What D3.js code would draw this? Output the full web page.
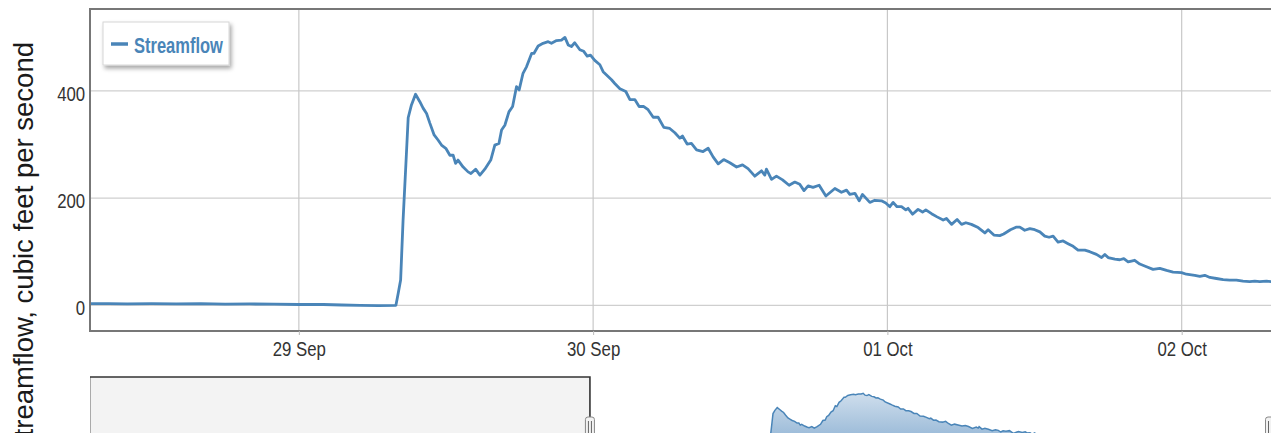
<!DOCTYPE html>
<html><head><meta charset="utf-8">
<script src="https://cdn.jsdelivr.net/npm/d3@7"></script>
<style>body{margin:0;background:#fff;overflow:hidden} svg{display:block}</style>
</head><body><svg id="c" width="1271" height="433"></svg>
<script>
// ---------------- DATA ----------------
const seriesName = "Streamflow";
const yAxisTitle = "Streamflow, cubic feet per second";
const yTicks = [0, 200, 400];
const xTickDates = ["2013-09-29 00:00", "2013-09-30 00:00", "2013-10-01 00:00", "2013-10-02 00:00"];
const xTickLabels = ["29 Sep", "30 Sep", "01 Oct", "02 Oct"];
const viewRange = ["2013-09-28 06:58", "2013-10-02 07:22"];
const navigatorRange = ["2013-09-25 08:06", "2013-10-02 07:22"];
const yDomain = [-48, 553];
const navYDomain = [0, 620];

const times = [
"2013-09-28 07:00","2013-09-28 08:30","2013-09-28 10:00","2013-09-28 12:00","2013-09-28 14:00","2013-09-28 16:00",
"2013-09-28 18:00","2013-09-28 20:00","2013-09-28 22:00",
"2013-09-29 00:00","2013-09-29 02:00","2013-09-29 03:30","2013-09-29 05:00","2013-09-29 06:30","2013-09-29 07:55",
"2013-09-29 08:06","2013-09-29 08:18","2013-09-29 08:30","2013-09-29 08:44","2013-09-29 08:55","2013-09-29 09:11",
"2013-09-29 09:31","2013-09-29 09:52","2013-09-29 10:08","2013-09-29 10:25","2013-09-29 10:41","2013-09-29 11:02",
"2013-09-29 11:22","2013-09-29 11:38","2013-09-29 11:59","2013-09-29 12:19","2013-09-29 12:35","2013-09-29 12:47",
"2013-09-29 12:59","2013-09-29 13:24","2013-09-29 13:48","2013-09-29 14:02","2013-09-29 14:25","2013-09-29 14:46",
"2013-09-29 15:10","2013-09-29 15:39","2013-09-29 15:59","2013-09-29 16:19","2013-09-29 16:32","2013-09-29 16:48",
"2013-09-29 17:08","2013-09-29 17:26","2013-09-29 17:45","2013-09-29 17:58","2013-09-29 18:17","2013-09-29 18:34",
"2013-09-29 18:59","2013-09-29 19:10","2013-09-29 19:31","2013-09-29 19:55","2013-09-29 20:20","2013-09-29 20:36",
"2013-09-29 21:01","2013-09-29 21:25","2013-09-29 21:42","2013-09-29 21:58","2013-09-29 22:14","2013-09-29 22:30",
"2013-09-29 22:55","2013-09-29 23:14","2013-09-29 23:31","2013-09-29 23:47",
"2013-09-30 00:08","2013-09-30 00:33","2013-09-30 00:49","2013-09-30 01:30","2013-09-30 01:46","2013-09-30 02:11",
"2013-09-30 02:40","2013-09-30 03:00","2013-09-30 03:24","2013-09-30 03:45","2013-09-30 04:08","2013-09-30 04:29",
"2013-09-30 04:54","2013-09-30 05:18","2013-09-30 05:46","2013-09-30 06:15","2013-09-30 06:40","2013-09-30 07:04",
"2013-09-30 07:17","2013-09-30 07:40","2013-09-30 08:01","2013-09-30 08:26","2013-09-30 08:58","2013-09-30 09:23",
"2013-09-30 09:47","2013-09-30 10:12","2013-09-30 10:39","2013-09-30 11:09","2013-09-30 11:42","2013-09-30 12:11",
"2013-09-30 12:38","2013-09-30 13:11","2013-09-30 13:44","2013-09-30 14:00","2013-09-30 14:08","2013-09-30 14:33",
"2013-09-30 14:57","2013-09-30 15:27","2013-09-30 15:59","2013-09-30 16:27","2013-09-30 16:51","2013-09-30 17:12",
"2013-09-30 17:32","2013-09-30 17:56","2013-09-30 18:26","2013-09-30 18:59","2013-09-30 19:43","2013-09-30 20:15",
"2013-09-30 20:40","2013-09-30 20:56","2013-09-30 21:21","2013-09-30 21:42","2013-09-30 21:58","2013-09-30 22:34",
"2013-09-30 22:58","2013-09-30 23:31","2013-09-30 23:52",
"2013-10-01 00:12","2013-10-01 00:28","2013-10-01 00:47","2013-10-01 01:09","2013-10-01 01:30","2013-10-01 01:41",
"2013-10-01 02:03","2013-10-01 02:30","2013-10-01 02:52","2013-10-01 03:08","2013-10-01 03:36","2013-10-01 04:03",
"2013-10-01 04:33","2013-10-01 04:49","2013-10-01 05:14","2013-10-01 05:41","2013-10-01 06:03","2013-10-01 06:24",
"2013-10-01 06:51","2013-10-01 07:24","2013-10-01 07:57","2013-10-01 08:13","2013-10-01 08:41","2013-10-01 09:10",
"2013-10-01 09:29","2013-10-01 10:02","2013-10-01 10:32","2013-10-01 10:48","2013-10-01 11:12","2013-10-01 11:37",
"2013-10-01 12:01","2013-10-01 12:26","2013-10-01 12:50","2013-10-01 13:11","2013-10-01 13:31","2013-10-01 13:55",
"2013-10-01 14:20","2013-10-01 14:44","2013-10-01 15:09","2013-10-01 15:33","2013-10-01 16:06","2013-10-01 16:30",
"2013-10-01 17:03","2013-10-01 17:28","2013-10-01 17:44","2013-10-01 18:00","2013-10-01 18:33","2013-10-01 18:57",
"2013-10-01 19:17","2013-10-01 19:38","2013-10-01 20:10","2013-10-01 20:35","2013-10-01 21:08","2013-10-01 21:40",
"2013-10-01 22:13","2013-10-01 22:46","2013-10-01 23:18","2013-10-01 23:59",
"2013-10-02 00:23","2013-10-02 01:04","2013-10-02 01:29","2013-10-02 01:53","2013-10-02 02:18","2013-10-02 02:50",
"2013-10-02 03:23","2013-10-02 03:55","2013-10-02 04:28","2013-10-02 05:00","2013-10-02 05:33","2013-10-02 05:58",
"2013-10-02 06:22","2013-10-02 06:55","2013-10-02 07:22"
];
const flow = [
3,3,2.5,3,2.5,3,
2,2.5,2,
1.5,1.5,0.5,0,-0.5,0,
22,47,159,265,350,374,
394,380,368,358,340,318,
308,299,293,280,280,265,
271,258,249,246,254,243,
254,271,299,302,327,336,
361,371,408,402,433,445,
470,470,484,489,492,489,
494,495,500,486,483,490,
477,474,465,467,
457,449,436,421,414,404,
399,384,384,371,371,365,
351,351,332,330,322,312,
316,301,302,290,287,293,
277,264,272,266,258,262,
255,241,251,243,254,235,
241,234,224,230,226,214,
223,220,224,204,218,211,
215,207,209,195,207,192,
196,195,191,
184,192,184,184,178,181,
170,179,174,178,171,165,
159,162,151,160,151,154,
151,145,135,141,131,130,
133,141,146,146,140,143,
141,137,129,127,129,118,
120,115,110,103,103,100,
95,89,95,89,86,85,
87,81,84,77,72,67,
69,65,62,61,
58,56,54,56,52,50,
48,47,47,45,44,45,
44,45,44
];

// ---------------- DRAWING ----------------
const lineColor = "#4a85b8";
const parse = d3.timeParse("%Y-%m-%d %H:%M");
const data = times.map((t, i) => ({ t: parse(t), v: flow[i] }));
const svg = d3.select("#c");
const P = { left: 90, top: 9, right: 1272, bottom: 331 };
const N = { left: 90, right: 1270, top: 377, bottom: 461 };

const x = d3.scaleTime().domain(viewRange.map(parse)).range([P.left, P.right]);
const y = d3.scaleLinear().domain(yDomain).range([P.bottom, P.top]);
const xN = d3.scaleTime().domain(navigatorRange.map(parse)).range([N.left, N.right]);
const yN = d3.scaleLinear().domain(navYDomain).range([N.bottom, N.top]);

const defs = svg.append("defs");
defs.append("clipPath").attr("id", "pclip").append("rect")
  .attr("x", P.left).attr("y", P.top).attr("width", P.right - P.left).attr("height", P.bottom - P.top);
defs.append("clipPath").attr("id", "nclip").append("rect")
  .attr("x", N.left).attr("y", N.top).attr("width", N.right - N.left).attr("height", N.bottom - N.top + 30);
const grad = defs.append("linearGradient").attr("id", "navgrad")
  .attr("gradientUnits", "userSpaceOnUse").attr("x1", 0).attr("x2", 0).attr("y1", N.top).attr("y2", N.bottom);
grad.append("stop").attr("offset", "0%").attr("stop-color", "#e2ebf4");
grad.append("stop").attr("offset", "100%").attr("stop-color", "#7ea7cd");
const sh = defs.append("filter").attr("id", "shadow").attr("x", "-20%").attr("y", "-20%").attr("width", "150%").attr("height", "160%");
sh.append("feDropShadow").attr("dx", 2).attr("dy", 3).attr("stdDeviation", 2)
  .attr("flood-color", "#000").attr("flood-opacity", 0.35);

// gridlines
svg.append("g").selectAll("line").data(yTicks).join("line")
  .attr("x1", P.left).attr("x2", P.right).attr("y1", d => y(d)).attr("y2", d => y(d))
  .attr("stroke", "#cfcfcf").attr("stroke-width", 1.2);
svg.append("g").selectAll("line").data(xTickDates.map(parse)).join("line")
  .attr("x1", d => x(d)).attr("x2", d => x(d)).attr("y1", P.top).attr("y2", P.bottom)
  .attr("stroke", "#c8c8c8").attr("stroke-width", 1.2);

// main line
svg.append("path").datum(data)
  .attr("clip-path", "url(#pclip)")
  .attr("fill", "none").attr("stroke", lineColor).attr("stroke-width", 2.8)
  .attr("stroke-linejoin", "round")
  .attr("d", d3.line().x(d => x(d.t)).y(d => y(d.v)));

// plot frame
svg.append("rect").attr("x", P.left).attr("y", P.top)
  .attr("width", P.right - P.left).attr("height", P.bottom - P.top)
  .attr("fill", "none").attr("stroke", "#777").attr("stroke-width", 2);

// axes
const fontFam = "'Liberation Sans', Arial, sans-serif";
const yAx = svg.append("g").attr("transform", `translate(${P.left},0)`)
  .call(d3.axisLeft(y).tickValues(yTicks).tickSize(0).tickPadding(6).tickFormat(d3.format("d")));
yAx.select(".domain").remove();
yAx.selectAll("text").attr("font-size", 21).attr("font-family", fontFam).attr("fill", "#333")
  .attr("dy", "0.45em").attr("transform", "scale(0.8,1)");

const xAx = svg.append("g").attr("transform", `translate(0,${P.bottom})`)
  .call(d3.axisBottom(x).tickValues(xTickDates.map(parse)).tickSize(4).tickPadding(6)
    .tickFormat((d, i) => xTickLabels[i]));
xAx.select(".domain").remove();
xAx.selectAll(".tick line").attr("stroke", "#bbb");
xAx.selectAll("text").attr("font-size", 21).attr("font-family", fontFam).attr("fill", "#333")
  .attr("transform", "scale(0.8,1)");

// y title (cut off at the bottom edge, as in the reference)
svg.append("text").text(yAxisTitle)
  .attr("transform", "translate(33,42) rotate(-90)")
  .attr("text-anchor", "end").attr("font-size", 27.5).attr("font-family", fontFam).attr("fill", "#1a1a1a");

// legend
const lg = svg.append("g");
lg.append("rect").attr("x", 103).attr("y", 22).attr("width", 126).attr("height", 43)
  .attr("fill", "#fff").attr("stroke", "#d6d6d6").attr("stroke-width", 1).attr("filter", "url(#shadow)");
lg.append("line").attr("x1", 111).attr("x2", 128).attr("y1", 44).attr("y2", 44)
  .attr("stroke", lineColor).attr("stroke-width", 3.5);
lg.append("text").text(seriesName).attr("transform", "translate(134,52.5) scale(0.75,1)")
  .attr("font-size", 22).attr("font-weight", "bold").attr("font-family", fontFam).attr("fill", lineColor);

// navigator
const ng = svg.append("g").attr("clip-path", "url(#nclip)");
ng.append("path").datum(data).attr("fill", "url(#navgrad)")
  .attr("d", d3.area().x(d => xN(d.t)).y0(yN(0)).y1(d => yN(d.v)));
ng.append("path").datum(data).attr("fill", "none").attr("stroke", lineColor).attr("stroke-width", 1.5)
  .attr("d", d3.line().x(d => xN(d.t)).y(d => yN(d.v)));
const selL = xN(parse(viewRange[0])), selR = xN(parse(viewRange[1]));
ng.append("rect").attr("x", N.left).attr("y", N.top).attr("width", selL - N.left).attr("height", 100)
  .attr("fill", "#f3f3f3");
svg.append("line").attr("x1", N.left + 0.5).attr("x2", N.left + 0.5).attr("y1", N.top).attr("y2", 440)
  .attr("stroke", "#aaa").attr("stroke-width", 1);
svg.append("path").attr("d", `M${N.left},${N.top}H${selL}V440`)
  .attr("fill", "none").attr("stroke", "#333").attr("stroke-width", 1.6);
[selL, selR].forEach(hx => {
  const h = svg.append("g");
  h.append("rect").attr("x", hx - 4.5).attr("y", 417).attr("width", 9).attr("height", 22).attr("rx", 2.5)
    .attr("fill", "#f2f2f2").attr("stroke", "#888").attr("stroke-width", 1);
  [-1.5, 1.5].forEach(o => h.append("line").attr("x1", hx + o).attr("x2", hx + o).attr("y1", 421).attr("y2", 436)
    .attr("stroke", "#666").attr("stroke-width", 1));
});
</script></body></html>
